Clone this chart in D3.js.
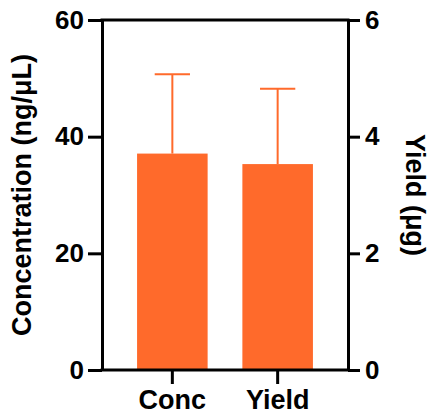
<!DOCTYPE html>
<html>
<head>
<meta charset="utf-8">
<script src="https://cdn.jsdelivr.net/npm/d3@7"></script>
<style>
  body { margin: 0; background: #fff; }
  text { font-family: "Liberation Sans", Arial, sans-serif; font-weight: bold; fill: #000; }
</style>
</head>
<body>
<div id="chart"></div>
<script>
// Podatki
const categories = ["Conc", "Yield"];
const means = [37.1, 3.53];
const errors = [13.6, 1.29];
const axisForBar = ["left", "right"];
const leftTicks = [0, 20, 40, 60];
const rightTicks = [0, 2, 4, 6];

const width = 430;
const height = 416;
const margin = { top: 20, right: 82, bottom: 46, left: 102 };
const barColor = "#ff6a2b";

const svg = d3.select("#chart")
    .append("svg")
    .attr("width", width)
    .attr("height", height);

const xScale = d3.scaleBand()
    .domain(categories)
    .range([margin.left, width - margin.right])
    .paddingInner(0.33)
    .paddingOuter(0.333);

const yLeft = d3.scaleLinear()
    .domain([0, 60])
    .range([height - margin.bottom, margin.top]);

const yRight = d3.scaleLinear()
    .domain([0, 6])
    .range([height - margin.bottom, margin.top]);

const scaleFor = i => axisForBar[i] === "left" ? yLeft : yRight;

// Stolpci
svg.selectAll(".bar")
    .data(categories)
    .enter()
    .append("rect")
    .attr("class", "bar")
    .attr("x", d => xScale(d))
    .attr("y", (d, i) => scaleFor(i)(means[i]))
    .attr("width", xScale.bandwidth())
    .attr("height", (d, i) => scaleFor(i)(0) - scaleFor(i)(means[i]))
    .attr("fill", barColor);

// Napake (samo navzgor)
const capHalf = xScale.bandwidth() / 4;
categories.forEach((c, i) => {
    const y = scaleFor(i);
    const cx = xScale(c) + xScale.bandwidth() / 2;
    svg.append("line")
        .attr("x1", cx).attr("x2", cx)
        .attr("y1", y(means[i])).attr("y2", y(means[i] + errors[i]))
        .attr("stroke", barColor).attr("stroke-width", 2);
    svg.append("line")
        .attr("x1", cx - capHalf).attr("x2", cx + capHalf)
        .attr("y1", y(means[i] + errors[i])).attr("y2", y(means[i] + errors[i]))
        .attr("stroke", barColor).attr("stroke-width", 2);
});

function styleAxis(g, size) {
    g.selectAll("path, line").attr("stroke", "#000").attr("stroke-width", 3);
    g.selectAll("text").attr("font-size", size).attr("font-family", "Liberation Sans, Arial, sans-serif").attr("font-weight", "bold");
}

// Leva os
svg.append("g")
    .attr("transform", `translate(${margin.left},0)`)
    .call(d3.axisLeft(yLeft).tickValues(leftTicks).tickFormat(d3.format("d")).tickSize(14).tickSizeOuter(0).tickPadding(4))
    .call(styleAxis, 26);

// Desna os
svg.append("g")
    .attr("transform", `translate(${width - margin.right},0)`)
    .call(d3.axisRight(yRight).tickValues(rightTicks).tickFormat(d3.format("d")).tickSize(12).tickSizeOuter(0).tickPadding(5))
    .call(styleAxis, 26);

// Zgornja črta
svg.append("line")
    .attr("x1", margin.left - 1.5).attr("x2", width - margin.right + 1.5)
    .attr("y1", margin.top).attr("y2", margin.top)
    .attr("stroke", "#000").attr("stroke-width", 3);

// X os
svg.append("g")
    .attr("transform", `translate(0,${height - margin.bottom})`)
    .call(d3.axisBottom(xScale).tickSize(14).tickSizeOuter(0).tickPadding(6))
    .call(g => g.select(".domain").attr("d", `M${margin.left - 1.5},0H${width - margin.right + 1.5}`))
    .call(styleAxis, 27);

// Naslovi osi
svg.append("text")
    .attr("transform", `translate(31,${(margin.top + height - margin.bottom) / 2}) rotate(-90)`)
    .attr("text-anchor", "middle")
    .attr("font-size", 27)
    .text("Concentration (ng/μL)");

svg.append("text")
    .attr("transform", `translate(406,${(margin.top + height - margin.bottom) / 2}) rotate(90)`)
    .attr("text-anchor", "middle")
    .attr("font-size", 27)
    .text("Yield (μg)");
</script>
</body>
</html>
